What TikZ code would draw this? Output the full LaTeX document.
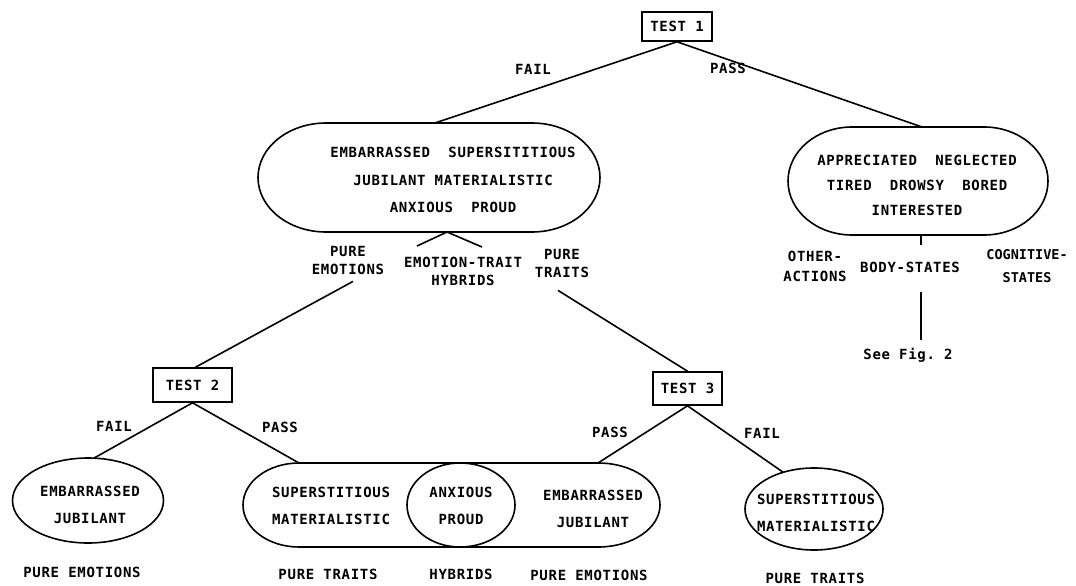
\documentclass[tikz,border=0pt]{standalone}
\usepackage{fontspec}
\setmonofont[LetterSpace=5]{DejaVu Sans Mono}
\newfontfamily\ttnarrow[LetterSpace=0]{DejaVu Sans Mono}
\usetikzlibrary{calc,shapes.geometric}
\tikzset{
  lw/.style={line width=1.6pt},
  tt/.style={font=\ttfamily\bfseries\fontsize{14}{#1}\selectfont, align=center, inner sep=0pt},
  tt/.default=15,
  testbox/.style={draw, lw, tt, inner sep=0pt},
  shp/.style={inner sep=0pt, outer sep=0pt},
  ovl/.style={draw, lw, ellipse, inner sep=0pt, outer sep=0pt}
}
\newcommand\stadium[4]{%
  \draw[lw] ($(#1.north west)+(#2,0)$) -- ($(#1.north east)+(-#3,0)$)
   arc[start angle=90, end angle=-90, x radius=#3pt, y radius=#4pt]
   -- ($(#1.south west)+(#2,0)$)
   arc[start angle=270, end angle=90, x radius=#2pt, y radius=#4pt] -- cycle;}
\begin{document}
\begin{tikzpicture}[x=1pt,y=-1pt]
\useasboundingbox (0,0) rectangle (1076,586);
\fill[white] (0,0) rectangle (1076,586);

% Test 1
\node[testbox, minimum width=70pt, minimum height=29pt] (T1) at (677,26.5) {TEST 1};
\node[tt] (fail1) at (533,69) {FAIL};
\node[tt] (pass1) at (728,68) {PASS};

% top-left oval
\node[shp, minimum width=342pt, minimum height=109pt] (Lo) at (429,177.5) {};
\stadium{Lo}{68}{68}{54.5}
\node[tt=27.5] (Lot) at (453,180) {EMBARRASSED\ \ SUPERSITITIOUS\\JUBILANT MATERIALISTIC\\ANXIOUS\ \ PROUD};

% top-right oval
\node[shp, minimum width=260pt, minimum height=108pt] (Ro) at (918,181) {};
\stadium{Ro}{64}{64}{54}
\node[tt=25] (Rot) at (917,185) {APPRECIATED\ \ NEGLECTED\\TIRED\ \ DROWSY\ \ BORED\\INTERESTED};

\draw[lw] (T1.south) -- ([xshift=6pt]Lo.north);
\draw[lw] (T1.south) -- ([xshift=4pt]Ro.north);

% branches under top-left oval
\coordinate (ap) at ($(Lo.south)+(18,0)$);
\coordinate (stl) at (417,246);
\coordinate (str) at (482,247);
\draw[lw] (stl) -- (ap) -- (str);
\node[tt=18] (pe) at (348,260) {PURE\\EMOTIONS};
\node[tt=18] (eth) at (463,271) {EMOTION-TRAIT\\HYBRIDS};
\node[tt=18] (pt) at (562,263) {PURE\\TRAITS};

% right branches
\node[tt=20] (oa) at (815,266) {OTHER-\\ACTIONS};
\node[tt] (bs) at (910,267) {BODY-STATES};
\node[tt=23, font=\ttnarrow\bfseries\fontsize{13.5}{23}\selectfont] (cs) at (1027,266) {COGNITIVE-\\STATES};
\coordinate (tk) at ($(Ro.south)+(3,10)$);
\draw[lw] (Ro.south -| tk) -- (tk);
\node[tt] (fig) at (908,355) {See Fig. 2};
\coordinate (fl) at ($(bs.south)+(11,20)$);
\coordinate (fe) at ($(fig.north)+(0,-8)$);
\draw[lw] (fl) -- (fl |- fe);

% Test 2 and 3
\node[testbox, minimum width=79pt, minimum height=34pt] (T2) at (192.5,385) {TEST 2};
\node[testbox, minimum width=69pt, minimum height=33pt] (T3) at (687.5,388.5) {TEST 3};
\draw[lw] ($(pe.south)+(5,7)$) -- ([xshift=3pt]T2.north);
\draw[lw] ($(pt.south)+(-4,13)$) -- (T3.north);

\node[tt] (fail2) at (114,426) {FAIL};
\node[tt] (pass2) at (280,427) {PASS};
\node[tt] (pass3) at (610,432) {PASS};
\node[tt] (fail3) at (762,433) {FAIL};

% bottom-left ellipse
\node[ovl, minimum width=151pt, minimum height=85pt] (LL) at (88,500.5) {};
\node[tt=27] (LLt) at (90,505) {EMBARRASSED\\JUBILANT};
\draw[lw] (T2.south) -- (LL.82);

% Venn
\node[shp, minimum width=272pt, minimum height=84pt] (VL) at (379,505) {};
\node[shp, minimum width=253pt, minimum height=84pt] (VR) at (533.5,505) {};
\stadium{VL}{56}{55}{42}
\stadium{VR}{53}{62}{42}
\node[tt=27] (VLt) at (331,506) {SUPERSTITIOUS\\MATERIALISTIC};
\node[tt=27] (Vmt) at (461,506) {ANXIOUS\\PROUD};
\node[tt=27] (VRt) at (593,509) {EMBARRASSED\\JUBILANT};
\draw[lw] (T2.south) -- ($(VL.north west)+(56,0)$);
\draw[lw] (T3.south) -- ($(VR.north east)+(-62,0)$);

% bottom-right ellipse
\node[ovl, minimum width=138pt, minimum height=82pt] (RS) at (814,509) {};
\node[tt=27] (RSt) at (816,513) {SUPERSTITIOUS\\MATERIALISTIC};
\draw[lw] (T3.south) -- (RS.130);

% bottom labels
\node[tt] (b1) at (82,572) {PURE EMOTIONS};
\node[tt] (b2) at (328,574) {PURE TRAITS};
\node[tt] (b3) at (461,574) {HYBRIDS};
\node[tt] (b4) at (589,575) {PURE EMOTIONS};
\node[tt] (b5) at (815,578) {PURE TRAITS};
\end{tikzpicture}
\end{document}
